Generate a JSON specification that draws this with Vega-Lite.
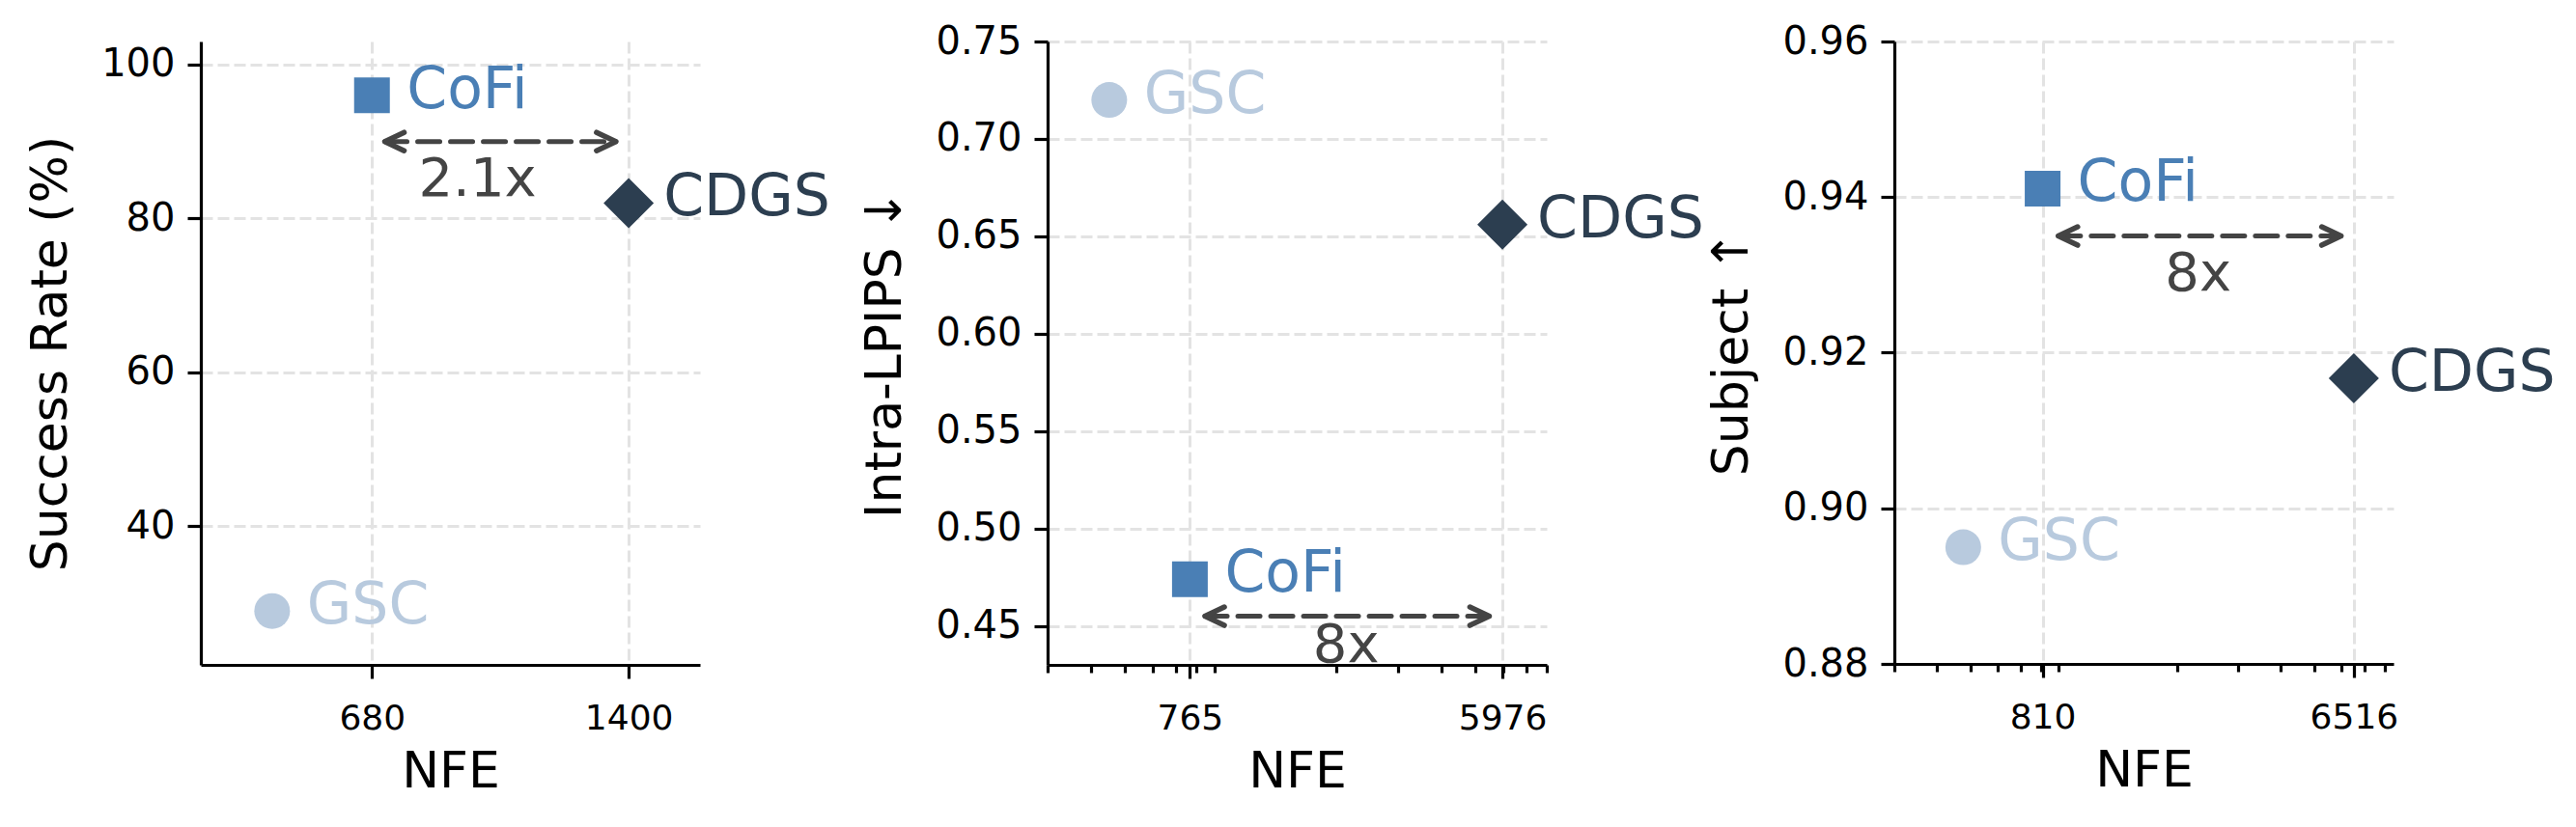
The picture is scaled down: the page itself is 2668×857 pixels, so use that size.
{
  "$schema": "https://vega.github.io/schema/vega-lite/v6.json",
  "padding": {"left": 26, "top": 23, "right": 10, "bottom": 30},
  "background": "white",
  "bounds": "flush",
  "spacing": 360,
  "config": {
    "view": {"stroke": null},
    "font": "DejaVu Sans",
    "axis": {
      "labelFont": "DejaVu Sans", "titleFont": "DejaVu Sans",
      "labelColor": "#000000", "titleColor": "#000000", "titleFontWeight": "normal",
      "domainColor": "#000000", "domainWidth": 3.2,
      "tickColor": "#000000", "tickWidth": 3.2, "tickSize": 14,
      "gridColor": "#e3e3e3", "gridWidth": 3, "gridDash": [12, 5],
      "labelFlush": false, "labelOverlap": false
    },
    "axisX": {"labelFontSize": 36, "titleFontSize": 52, "labelPadding": 24, "titlePadding": 12},
    "axisY": {"labelFontSize": 40, "titleFontSize": 52, "labelPadding": 13, "titlePadding": 25}
  },
  "hconcat": [
    {
      "width": 517, "height": 646,
      "layer": [
        {
          "data": {"values": [
            {"method": "GSC", "nfe": 400, "value": 29},
            {"method": "CoFi", "nfe": 680, "value": 96},
            {"method": "CDGS", "nfe": 1400, "value": 82}
          ]},
          "mark": {"type": "point", "filled": true, "opacity": 1},
          "encoding": {
            "x": {"field": "nfe", "type": "quantitative", "scale": {"domain": [200, 1600], "nice": false, "zero": false}, "axis": {"values": [680, 1400], "format": "d", "title": "NFE", "grid": true}},
            "y": {"field": "value", "type": "quantitative", "scale": {"domain": [22, 103], "nice": false, "zero": false}, "axis": {"values": [40, 60, 80, 100], "title": "Success Rate (%)", "grid": true}},
            "shape": {"field": "method", "type": "nominal", "scale": {"domain": ["GSC", "CoFi", "CDGS"], "range": ["circle", "square", "diamond"]}, "legend": null},
            "color": {"field": "method", "type": "nominal", "scale": {"domain": ["GSC", "CoFi", "CDGS"], "range": ["#b8cade", "#4a7fb5", "#2c3e50"]}, "legend": null},
            "size": {"condition": {"test": "datum.method === 'CDGS'", "value": 2704}, "value": 1369}
          }
        },
        {
          "data": {"values": [
            {"method": "GSC", "nfe": 400, "value": 29},
            {"method": "CoFi", "nfe": 680, "value": 96},
            {"method": "CDGS", "nfe": 1400, "value": 82}
          ]},
          "mark": {"type": "text", "align": "left", "baseline": "alphabetic", "dx": 36, "dy": 13, "fontSize": 60},
          "encoding": {
            "x": {"field": "nfe", "type": "quantitative"},
            "y": {"field": "value", "type": "quantitative"},
            "text": {"field": "method"},
            "color": {"field": "method", "type": "nominal", "scale": {"domain": ["GSC", "CoFi", "CDGS"], "range": ["#b8cade", "#4a7fb5", "#2c3e50"]}, "legend": null}
          }
        },
        {
          "data": {"values": [{"x1": 716, "x2": 1364, "y": 90}]},
          "mark": {"type": "rule", "strokeDash": [23, 11], "strokeWidth": 5, "strokeCap": "round", "color": "#444444"},
          "encoding": {"x": {"field": "x1", "type": "quantitative"}, "x2": {"field": "x2"}, "y": {"field": "y", "type": "quantitative"}}
        },
        {
          "data": {"values": [{"x1": 716, "x2": 1364, "y": 90}]},
          "mark": {"type": "point", "shape": "M 1 -0.475 L 0 0 L 1 0.475", "size": 1600, "filled": false, "stroke": "#444444", "strokeWidth": 5.5, "strokeCap": "round", "strokeJoin": "round", "opacity": 1},
          "encoding": {"x": {"field": "x1", "type": "quantitative"}, "y": {"field": "y", "type": "quantitative"}}
        },
        {
          "data": {"values": [{"x1": 716, "x2": 1364, "y": 90}]},
          "mark": {"type": "point", "shape": "M -1 -0.475 L 0 0 L -1 0.475", "size": 1600, "filled": false, "stroke": "#444444", "strokeWidth": 5.5, "strokeCap": "round", "strokeJoin": "round", "opacity": 1},
          "encoding": {"x": {"field": "x2", "type": "quantitative"}, "y": {"field": "y", "type": "quantitative"}}
        },
        {
          "data": {"values": [{"x": 976, "y": 83, "label": "2.1x"}]},
          "mark": {"type": "text", "fontSize": 56, "color": "#444444", "align": "center", "baseline": "alphabetic"},
          "encoding": {"x": {"field": "x", "type": "quantitative"}, "y": {"field": "y", "type": "quantitative"}, "text": {"field": "label"}}
        }
      ]
    },
    {
      "width": 517, "height": 646,
      "resolve": {"axis": {"x": "independent"}},
      "layer": [
        {
          "data": {"values": [
            {"method": "GSC", "nfe": 450, "value": 0.72},
            {"method": "CoFi", "nfe": 765, "value": 0.474},
            {"method": "CDGS", "nfe": 5976, "value": 0.656}
          ]},
          "mark": {"type": "point", "filled": true, "opacity": 1},
          "encoding": {
            "x": {"field": "nfe", "type": "quantitative", "scale": {"type": "log", "domain": [300, 8000], "nice": false}, "axis": {"values": [765, 5976], "format": "d", "title": "NFE", "grid": true, "orient": "bottom"}},
            "y": {"field": "value", "type": "quantitative", "scale": {"domain": [0.43, 0.75], "nice": false, "zero": false}, "axis": {"values": [0.45, 0.5, 0.55, 0.6, 0.65, 0.7, 0.75], "format": ".2f", "title": "Intra-LPIPS ↓", "grid": true}},
            "shape": {"field": "method", "type": "nominal", "scale": {"domain": ["GSC", "CoFi", "CDGS"], "range": ["circle", "square", "diamond"]}, "legend": null},
            "color": {"field": "method", "type": "nominal", "scale": {"domain": ["GSC", "CoFi", "CDGS"], "range": ["#b8cade", "#4a7fb5", "#2c3e50"]}, "legend": null},
            "size": {"condition": {"test": "datum.method === 'CDGS'", "value": 2704}, "value": 1369}
          }
        },
        {
          "data": {"values": [
            {"method": "GSC", "nfe": 450, "value": 0.72},
            {"method": "CoFi", "nfe": 765, "value": 0.474},
            {"method": "CDGS", "nfe": 5976, "value": 0.656}
          ]},
          "mark": {"type": "text", "align": "left", "baseline": "alphabetic", "dx": 36, "dy": 13, "fontSize": 60},
          "encoding": {
            "x": {"field": "nfe", "type": "quantitative", "axis": {"orient": "bottom", "values": [300, 400, 500, 600, 700, 800, 900, 2000, 3000, 4000, 5000, 6000, 7000, 8000], "labels": false, "domain": false, "grid": false, "tickSize": 8, "title": null}},
            "y": {"field": "value", "type": "quantitative"},
            "text": {"field": "method"},
            "color": {"field": "method", "type": "nominal", "scale": {"domain": ["GSC", "CoFi", "CDGS"], "range": ["#b8cade", "#4a7fb5", "#2c3e50"]}, "legend": null}
          }
        },
        {
          "data": {"values": [{"x1": 845, "x2": 5480, "y": 0.455}]},
          "mark": {"type": "rule", "strokeDash": [23, 11], "strokeWidth": 5, "strokeCap": "round", "color": "#444444"},
          "encoding": {"x": {"field": "x1", "type": "quantitative", "axis": null}, "x2": {"field": "x2"}, "y": {"field": "y", "type": "quantitative"}}
        },
        {
          "data": {"values": [{"x1": 845, "x2": 5480, "y": 0.455}]},
          "mark": {"type": "point", "shape": "M 1 -0.475 L 0 0 L 1 0.475", "size": 1600, "filled": false, "stroke": "#444444", "strokeWidth": 5.5, "strokeCap": "round", "strokeJoin": "round", "opacity": 1},
          "encoding": {"x": {"field": "x1", "type": "quantitative", "axis": null}, "y": {"field": "y", "type": "quantitative"}}
        },
        {
          "data": {"values": [{"x1": 845, "x2": 5480, "y": 0.455}]},
          "mark": {"type": "point", "shape": "M -1 -0.475 L 0 0 L -1 0.475", "size": 1600, "filled": false, "stroke": "#444444", "strokeWidth": 5.5, "strokeCap": "round", "strokeJoin": "round", "opacity": 1},
          "encoding": {"x": {"field": "x2", "type": "quantitative", "axis": null}, "y": {"field": "y", "type": "quantitative"}}
        },
        {
          "data": {"values": [{"x": 2138, "y": 0.4315, "label": "8x"}]},
          "mark": {"type": "text", "fontSize": 56, "color": "#444444", "align": "center", "baseline": "alphabetic"},
          "encoding": {"x": {"field": "x", "type": "quantitative", "axis": null}, "y": {"field": "y", "type": "quantitative"}, "text": {"field": "label"}}
        }
      ]
    },
    {
      "width": 517, "height": 645,
      "resolve": {"axis": {"x": "independent"}},
      "layer": [
        {
          "data": {"values": [
            {"method": "GSC", "nfe": 476, "value": 0.895},
            {"method": "CoFi", "nfe": 810, "value": 0.9411},
            {"method": "CDGS", "nfe": 6516, "value": 0.9167}
          ]},
          "mark": {"type": "point", "filled": true, "opacity": 1},
          "encoding": {
            "x": {"field": "nfe", "type": "quantitative", "scale": {"type": "log", "domain": [300, 8500], "nice": false}, "axis": {"values": [810, 6516], "format": "d", "title": "NFE", "grid": true, "orient": "bottom"}},
            "y": {"field": "value", "type": "quantitative", "scale": {"domain": [0.88, 0.96], "nice": false, "zero": false}, "axis": {"values": [0.88, 0.9, 0.92, 0.94, 0.96], "format": ".2f", "title": "Subject ↑", "grid": true}},
            "shape": {"field": "method", "type": "nominal", "scale": {"domain": ["GSC", "CoFi", "CDGS"], "range": ["circle", "square", "diamond"]}, "legend": null},
            "color": {"field": "method", "type": "nominal", "scale": {"domain": ["GSC", "CoFi", "CDGS"], "range": ["#b8cade", "#4a7fb5", "#2c3e50"]}, "legend": null},
            "size": {"condition": {"test": "datum.method === 'CDGS'", "value": 2704}, "value": 1369}
          }
        },
        {
          "data": {"values": [
            {"method": "GSC", "nfe": 476, "value": 0.895},
            {"method": "CoFi", "nfe": 810, "value": 0.9411},
            {"method": "CDGS", "nfe": 6516, "value": 0.9167}
          ]},
          "mark": {"type": "text", "align": "left", "baseline": "alphabetic", "dx": 36, "dy": 13, "fontSize": 60},
          "encoding": {
            "x": {"field": "nfe", "type": "quantitative", "axis": {"orient": "bottom", "values": [300, 400, 500, 600, 700, 800, 900, 2000, 3000, 4000, 5000, 6000, 7000, 8000], "labels": false, "domain": false, "grid": false, "tickSize": 8, "title": null}},
            "y": {"field": "value", "type": "quantitative"},
            "text": {"field": "method"},
            "color": {"field": "method", "type": "nominal", "scale": {"domain": ["GSC", "CoFi", "CDGS"], "range": ["#b8cade", "#4a7fb5", "#2c3e50"]}, "legend": null}
          }
        },
        {
          "data": {"values": [{"x1": 900, "x2": 5980, "y": 0.935}]},
          "mark": {"type": "rule", "strokeDash": [23, 11], "strokeWidth": 5, "strokeCap": "round", "color": "#444444"},
          "encoding": {"x": {"field": "x1", "type": "quantitative", "axis": null}, "x2": {"field": "x2"}, "y": {"field": "y", "type": "quantitative"}}
        },
        {
          "data": {"values": [{"x1": 900, "x2": 5980, "y": 0.935}]},
          "mark": {"type": "point", "shape": "M 1 -0.475 L 0 0 L 1 0.475", "size": 1600, "filled": false, "stroke": "#444444", "strokeWidth": 5.5, "strokeCap": "round", "strokeJoin": "round", "opacity": 1},
          "encoding": {"x": {"field": "x1", "type": "quantitative", "axis": null}, "y": {"field": "y", "type": "quantitative"}}
        },
        {
          "data": {"values": [{"x1": 900, "x2": 5980, "y": 0.935}]},
          "mark": {"type": "point", "shape": "M -1 -0.475 L 0 0 L -1 0.475", "size": 1600, "filled": false, "stroke": "#444444", "strokeWidth": 5.5, "strokeCap": "round", "strokeJoin": "round", "opacity": 1},
          "encoding": {"x": {"field": "x2", "type": "quantitative", "axis": null}, "y": {"field": "y", "type": "quantitative"}}
        },
        {
          "data": {"values": [{"x": 2297, "y": 0.928, "label": "8x"}]},
          "mark": {"type": "text", "fontSize": 56, "color": "#444444", "align": "center", "baseline": "alphabetic"},
          "encoding": {"x": {"field": "x", "type": "quantitative", "axis": null}, "y": {"field": "y", "type": "quantitative"}, "text": {"field": "label"}}
        }
      ]
    }
  ]
}
